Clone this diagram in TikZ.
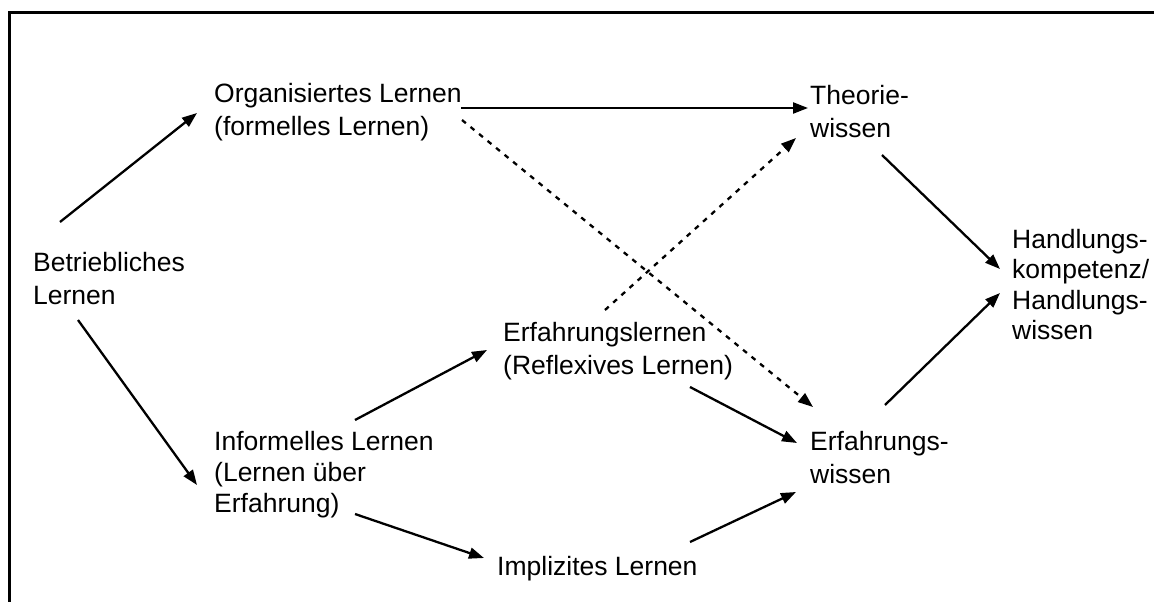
\documentclass[tikz,border=0pt]{standalone}
\usepackage{fontspec}
\setmainfont{Liberation Sans}
\usetikzlibrary{arrows.meta}

\tikzset{
  lbl/.style={anchor=north west, inner sep=0pt, align=left,
              font=\fontsize{26.5}{33}\selectfont},
  flow/.style={line width=2.3pt, -{Triangle[length=15pt,width=11pt]}},
  maybe/.style={flow, dash pattern=on 5pt off 6pt},
}

\begin{document}
\begin{tikzpicture}[x=1pt, y=-1pt]
  \useasboundingbox (0,0) rectangle (1154,602);
  % frame on the top and left
  \draw[line width=3pt] (1154,12.5) -- (9.5,12.5) -- (9.5,602);

  % kinds of learning and knowledge
  \node[lbl] (betr) at (33,252)  {Betriebliches\\Lernen};
  \node[lbl] (org)  at (214,83)  {Organisiertes Lernen\\(formelles Lernen)};
  \node[lbl] (theo) at (810,85)  {Theorie-\\wissen};
  \node[lbl, font=\fontsize{26.5}{30.5}\selectfont] (hand) at (1012,229)
        {Handlungs-\\kompetenz/\\Handlungs-\\wissen};
  \node[lbl] (erfl) at (503,322) {Erfahrungslernen\\(Reflexives Lernen)};
  \node[lbl] (erfw) at (810,431) {Erfahrungs-\\wissen};
  \node[lbl, font=\fontsize{26.5}{31}\selectfont] (inf) at (214,431)
        {Informelles Lernen\\(Lernen über\\Erfahrung)};
  \node[lbl] (impl) at (497,556) {Implizites Lernen};

  % connectors
  \draw[flow]  ([shift={(27,-30)}]betr.north west) -- ([shift={(-17,30)}]org.north west);
  \draw[flow]  ([shift={(45,68)}]betr.north west)  -- ([shift={(-17,54)}]inf.north west);
  \draw[flow]  ([shift={(247,25)}]org.north west)  -- ([shift={(-2,23)}]theo.north west);
  \draw[maybe] ([shift={(248,37)}]org.north west)  -- ([shift={(3,-24)}]erfw.north west);
  \draw[maybe] ([shift={(102,-12)}]erfl.north west) -- ([shift={(-14,53)}]theo.north west);
  \draw[flow]  ([shift={(187,65)}]erfl.north west) -- ([shift={(-13,12)}]erfw.north west);
  \draw[flow]  ([shift={(141,-11)}]inf.north west) -- ([shift={(-16,28)}]erfl.north west);
  \draw[flow]  ([shift={(141,83)}]inf.north west)  -- ([shift={(-13,2)}]impl.north west);
  \draw[flow]  ([shift={(193,-14)}]impl.north west) -- ([shift={(-14,61)}]erfw.north west);
  \draw[flow]  ([shift={(72,70)}]theo.north west)  -- ([shift={(-12,40)}]hand.north west);
  \draw[flow]  ([shift={(75,-26)}]erfw.north west) -- ([shift={(-12,64)}]hand.north west);
\end{tikzpicture}
\end{document}
